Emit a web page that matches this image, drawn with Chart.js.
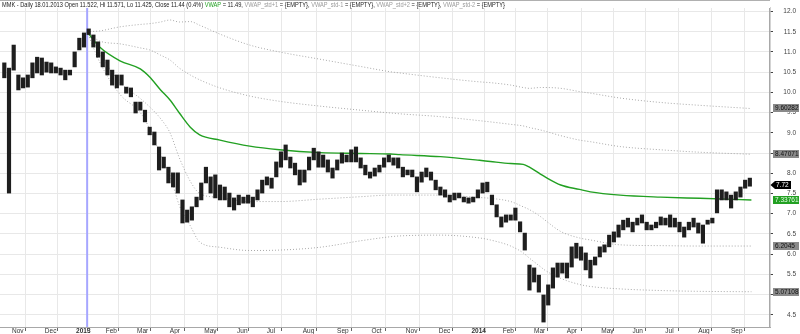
<!DOCTYPE html>
<html><head><meta charset="utf-8">
<script src="https://cdn.jsdelivr.net/npm/chart.js@4"></script>
<style>html,body{margin:0;padding:0;background:#fff;}#wrap{width:800px;height:334px;position:relative;}</style>
</head><body><div id="wrap"><canvas id="c" width="800" height="334"></canvas></div>
<script>
// ---- x axis: trading-day index of each month start ----
const monthDays = [0,21,41,60,80,101,123,144,163,186,208,230,252,273,294,314,334,355,377,397,418,439,460];
const monthLabels = ['Nov','Dec','2013','Feb','Mar','Apr','May','Jun','Jul','Aug','Sep','Oct','Nov','Dec','2014','Feb','Mar','Apr','May','Jun','Jul','Aug','Sep'];
const yTicks = [4.5,5.0,5.5,6.0,6.5,7.0,7.5,8.0,8.5,9.0,9.5,10.0,10.5,11.0,11.5,12.0];

// ---- price bars (every 3rd trading day, starting at day -3) ----
const barFirstDay = -3, barStep = 3;
const barHigh = [10.73,10.60,11.17,10.43,10.36,10.43,10.73,10.87,10.85,10.75,10.73,10.63,10.60,10.55,10.55,11.00,11.34,11.47,11.57,11.42,
11.25,11.00,10.80,10.55,10.43,10.43,10.13,10.11,9.76,9.76,9.56,9.14,9.02,8.65,8.40,8.15,8.01,8.01,7.34,7.09,
7.17,7.41,7.76,8.15,7.91,7.96,7.71,7.66,7.51,7.39,7.46,7.41,7.46,7.41,7.59,7.83,7.91,7.88,8.28,8.53,
8.70,8.40,8.25,8.08,8.08,8.40,8.62,8.53,8.45,8.33,8.13,8.33,8.50,8.45,8.58,8.65,8.38,8.20,8.03,8.13,
8.20,8.38,8.45,8.38,8.38,8.15,8.08,8.08,7.91,8.03,8.13,8.03,7.83,7.66,7.59,7.46,7.51,7.51,7.41,7.39,
7.41,7.59,7.76,7.78,7.46,7.22,6.92,6.97,6.97,7.14,6.80,6.52,5.73,5.66,5.48,4.99,5.24,5.66,5.78,5.78,
5.78,6.18,6.27,6.18,6.03,5.85,5.93,6.18,6.23,6.47,6.55,6.72,6.84,6.89,6.79,6.89,6.97,6.79,6.72,6.79,
6.92,6.89,6.97,6.89,6.79,6.67,6.79,6.89,6.77,6.72,6.84,6.89,7.59,7.59,7.54,7.46,7.54,7.66,7.83,7.88];
const barLow = [10.36,7.51,10.55,10.06,10.11,10.13,10.36,10.48,10.43,10.50,10.48,10.48,10.43,10.31,10.43,10.63,11.05,11.12,11.43,11.12,
10.87,10.63,10.43,10.18,10.11,10.18,9.98,9.89,9.49,9.56,9.27,8.95,8.70,8.08,8.13,7.76,7.66,7.51,6.77,6.79,
6.84,7.17,7.34,7.76,7.51,7.39,7.34,7.34,7.17,7.09,7.22,7.26,7.26,7.17,7.34,7.51,7.71,7.63,7.91,8.15,
8.33,8.13,7.96,7.71,7.78,8.08,8.33,8.15,8.15,8.03,7.88,8.08,8.25,8.28,8.28,8.28,8.13,7.96,7.88,7.93,
8.03,8.15,8.28,8.20,8.13,7.91,7.96,7.91,7.54,7.78,7.91,7.83,7.59,7.46,7.41,7.29,7.34,7.39,7.29,7.26,
7.29,7.39,7.51,7.54,7.22,6.92,6.67,6.79,6.84,6.84,6.55,6.10,5.11,5.31,5.06,4.32,4.74,5.16,5.43,5.53,
5.41,5.68,5.90,5.85,5.61,5.41,5.73,5.93,6.05,6.18,6.30,6.42,6.60,6.67,6.55,6.72,6.77,6.60,6.60,6.65,
6.72,6.72,6.67,6.67,6.55,6.42,6.60,6.67,6.52,6.27,6.74,6.77,7.02,7.34,7.34,7.14,7.34,7.41,7.63,7.68];

// ---- anchored VWAP and its std bands ----
const bandDays = [50,58,71,84,90,97,103,109,116,122,135,154,173,199,225,244,250,276,301,308,321,329,333,340,343,353,365,372,391,417,442,475];
const vwap   = [11.50,11.12,10.78,10.58,10.38,10.06,9.81,9.49,9.14,8.95,8.82,8.67,8.58,8.51,8.49,8.475,8.46,8.41,8.32,8.29,8.24,8.22,8.15,7.98,7.91,7.71,7.60,7.54,7.46,7.41,7.38,7.34];
const stdP1  = [11.50,11.27,11.20,11.10,11.05,10.92,10.80,10.60,10.43,10.31,10.11,9.91,9.78,9.66,9.56,9.49,9.47,9.40,9.30,9.27,9.21,9.17,9.13,9.07,9.04,8.93,8.82,8.78,8.66,8.58,8.52,8.47];
const stdP2  = [11.50,11.52,11.62,11.68,11.70,11.74,11.79,11.74,11.75,11.66,11.44,11.17,11.00,10.82,10.64,10.51,10.48,10.36,10.26,10.24,10.18,10.12,10.10,10.12,10.12,10.10,10.02,9.98,9.86,9.75,9.68,9.60];
const stdM1  = [11.50,10.97,10.25,9.85,9.64,9.35,9.00,8.38,7.80,7.50,7.40,7.30,7.30,7.36,7.42,7.46,7.46,7.46,7.40,7.38,7.30,7.17,7.10,6.93,6.84,6.56,6.40,6.35,6.23,6.21,6.20,6.20];
const stdM2  = [11.50,10.75,9.95,9.50,9.10,8.45,7.95,7.20,6.70,6.30,6.17,6.09,6.10,6.17,6.33,6.43,6.45,6.47,6.40,6.35,6.20,6.03,5.90,5.69,5.60,5.40,5.25,5.20,5.14,5.10,5.08,5.07];

// ---- right-edge value labels ----
const lastValues = {p2: 9.60282, p1: 8.47071, close: 7.72, vwap: 7.33761, m1: 6.2045, m2: 5.07108};
const cursorDay = 50;
const headerParts = [
  ['MMK - Daily 18.01.2013 Open 11.522, Hi 11.571, Lo 11.425, Close 11.44 (0.4%) ', '#222'],
  ['VWAP', '#22a022'], [' = 11.49, ', '#222'],
  ['VWAP_std+1', '#9a9a9a'], [' = {EMPTY}, ', '#222'],
  ['VWAP_std-1', '#9a9a9a'], [' = {EMPTY}, ', '#222'],
  ['VWAP_std+2', '#9a9a9a'], [' = {EMPTY}, ', '#222'],
  ['VWAP_std-2', '#9a9a9a'], [' = {EMPTY}', '#222']
];

const bars = barHigh.map((h, i) => ({x: barFirstDay + barStep * i, y: [barLow[i], h]}));
const pts = arr => arr.map((v, i) => ({x: bandDays[i], y: v}));

const dotted = (arr) => ({type: 'line', data: pts(arr), borderColor: '#a8a8a8', borderWidth: 1,
  borderDash: [1, 2], pointRadius: 0, cubicInterpolationMode: 'monotone', order: 3});

const overlay = {
  id: 'overlay',
  beforeDatasetsDraw(chart) {
    const ctx = chart.ctx, xs = chart.scales.x, a = chart.chartArea;
    const px = xs.getPixelForValue(cursorDay);
    ctx.save();
    ctx.strokeStyle = '#a6a6ff'; ctx.lineWidth = 2;
    ctx.beginPath(); ctx.moveTo(px, a.top); ctx.lineTo(px, a.bottom); ctx.stroke();
    ctx.restore();
  },
  afterDraw(chart) {
    const ctx = chart.ctx, ys = chart.scales.y;
    ctx.save();
    ctx.fillStyle = '#fff'; ctx.fillRect(0, 0, 770, 8);
    ctx.strokeStyle = '#b0b0b0'; ctx.lineWidth = 1;
    ctx.beginPath(); ctx.moveTo(0, 0.5); ctx.lineTo(770, 0.5); ctx.stroke();
    ctx.font = '7px "Liberation Sans", Arial, sans-serif';
    ctx.textBaseline = 'alphabetic';
    let total = 0; headerParts.forEach(p => total += ctx.measureText(p[0]).width);
    const sx = 503 / total;
    ctx.translate(2, 0); ctx.scale(sx, 1);
    let x = 0;
    headerParts.forEach(p => { ctx.fillStyle = p[1]; ctx.fillText(p[0], x, 7); x += ctx.measureText(p[0]).width; });
    ctx.restore();

    ctx.save();
    ctx.font = '6.5px "Liberation Sans", Arial, sans-serif';
    ctx.textBaseline = 'middle'; ctx.textAlign = 'left';
    const box = (v, fill, tc, txt) => {
      const y = Math.round(ys.getPixelForValue(v));
      ctx.fillStyle = fill; ctx.fillRect(773, y - 4, 26, 8);
      ctx.fillStyle = tc; ctx.fillText(txt, 775, y + 0.5);
    };
    box(lastValues.p2, '#8a8a8a', '#111', String(lastValues.p2));
    box(lastValues.p1, '#8a8a8a', '#111', String(lastValues.p1));
    box(lastValues.m1, '#8a8a8a', '#111', String(lastValues.m1));
    box(lastValues.m2, '#8a8a8a', '#111', String(lastValues.m2));
    box(lastValues.vwap, '#22a022', '#e8ffe8', String(lastValues.vwap));
    const yc = Math.round(ys.getPixelForValue(lastValues.close));
    ctx.fillStyle = '#000';
    ctx.beginPath(); ctx.moveTo(770.5, yc); ctx.lineTo(775, yc - 4); ctx.lineTo(791, yc - 4);
    ctx.lineTo(791, yc + 4); ctx.lineTo(775, yc + 4); ctx.closePath(); ctx.fill();
    ctx.fillStyle = '#fff'; ctx.fillText(lastValues.close.toFixed(2), 776, yc + 0.5);
    ctx.restore();
  }
};

const chart = new Chart(document.getElementById('c'), {
  type: 'bar',
  data: {
    datasets: [
      {type: 'bar', data: bars, backgroundColor: '#1e1e1e', borderWidth: 0, barThickness: 3.5, grouped: false, order: 1},
      {type: 'line', data: pts(vwap), borderColor: '#22a022', borderWidth: 1.4, pointRadius: 0, cubicInterpolationMode: 'monotone', order: 2},
      dotted(stdP2), dotted(stdP1), dotted(stdM1), dotted(stdM2)
    ]
  },
  options: {
    responsive: false, animation: false, devicePixelRatio: 1,
    layout: {padding: {top: 8, right: 4, left: 0, bottom: 0}},
    plugins: {legend: {display: false}, tooltip: {enabled: false}},
    scales: {
      x: {
        type: 'linear', min: -5.76, max: 486.9, offset: false,
        afterBuildTicks: s => { s.ticks = monthDays.map(v => ({value: v})); },
        afterFit: s => { s.height = 7; s.paddingLeft = 0; s.paddingRight = 0; },
        grid: {color: '#e8e8e8', tickColor: '#666', tickLength: 4, lineWidth: 1},
        border: {color: '#a8a8a8', width: 1},
        ticks: {
          autoSkip: false, maxRotation: 0, align: 'start', labelOffset: 3, padding: -4, color: '#333',
          font: c => ({family: '"Liberation Sans", Arial, sans-serif', size: 6.5,
            weight: (c.tick && /^\d{4}$/.test(monthLabels[monthDays.indexOf(c.tick.value)])) ? 'bold' : 'normal'}),
          callback: v => monthLabels[monthDays.indexOf(v)]
        }
      },
      y: {
        position: 'right', min: 4.198, max: 12.0865,
        afterBuildTicks: s => { s.ticks = yTicks.map(v => ({value: v})); },
        afterFit: s => { s.width = 26; s.paddingTop = 0; s.paddingBottom = 0; },
        grid: {color: '#e8e8e8', tickColor: '#444', tickLength: 3},
        border: {color: '#a8a8a8', width: 1.5},
        ticks: {crossAlign: 'far', padding: 10, color: '#444',
          font: {family: '"Liberation Sans", Arial, sans-serif', size: 6.5},
          callback: v => Number(v).toFixed(1)}
      }
    }
  },
  plugins: [overlay]
});
</script>
</body></html>
